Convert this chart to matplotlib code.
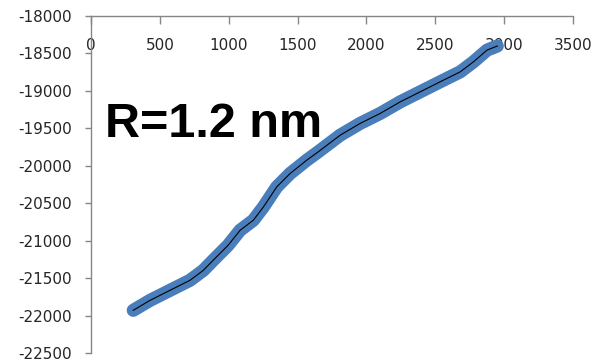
import numpy as np
import matplotlib.pyplot as plt

plt.rcParams['axes.unicode_minus'] = False

# values
x_vals = [307, 429, 574, 719, 816, 887, 996, 1083, 1179, 1252, 1349, 1446,
          1567, 1650, 1810, 1955, 2100, 2246, 2391, 2536, 2682, 2778, 2876, 2950]
y_vals = [-21930, -21797, -21663, -21529, -21396, -21262, -21061, -20861,
          -20727, -20550, -20282, -20103, -19925, -19814, -19591, -19434,
          -19301, -19146, -19012, -18878, -18745, -18611, -18455, -18401]

x_ticks = [0, 500, 1000, 1500, 2000, 2500, 3000, 3500]
y_ticks = [-22500, -22000, -21500, -21000, -20500, -20000, -19500, -19000, -18500, -18000]

label = 'R=1.2 nm'

axis_grey = '#868686'
text_col = '#262626'
blue = '#4a7ebb'

fig = plt.figure(figsize=(5.97, 3.61), dpi=100)
ax = fig.add_axes([0.1524, 0.0222, 0.8074, 0.9335])

# thick blue band of points, then the thin black trend line on top
ax.plot(x_vals, y_vals, color=blue, linewidth=9.5, solid_capstyle='round',
        solid_joinstyle='round', zorder=2)
ax.plot(x_vals, y_vals, color='black', linewidth=0.8, zorder=3)

ax.set_xlim(0, 3500)
ax.set_ylim(-22500, -18000)
ax.set_xticks(x_ticks)
ax.set_yticks(y_ticks)

# x axis sits on the top edge (y = -18000), labels hang below it
ax.spines['bottom'].set_position(('data', -18000))
ax.spines['top'].set_visible(False)
ax.spines['right'].set_visible(False)
for s in ['bottom', 'left']:
    ax.spines[s].set_color(axis_grey)
    ax.spines[s].set_linewidth(1.0)

ax.tick_params(axis='x', direction='out', length=5.8, width=1.0, color=axis_grey,
               pad=10, labelsize=11, labelcolor=text_col)
ax.tick_params(axis='y', direction='out', length=4.5, width=1.0, color=axis_grey,
               pad=9, labelsize=11, labelcolor=text_col)

ax.text(102, -19614, label, fontsize=35, fontweight='bold',
        family='Liberation Sans', ha='left', va='baseline', color='black')

fig.savefig('out.png', dpi=100)
